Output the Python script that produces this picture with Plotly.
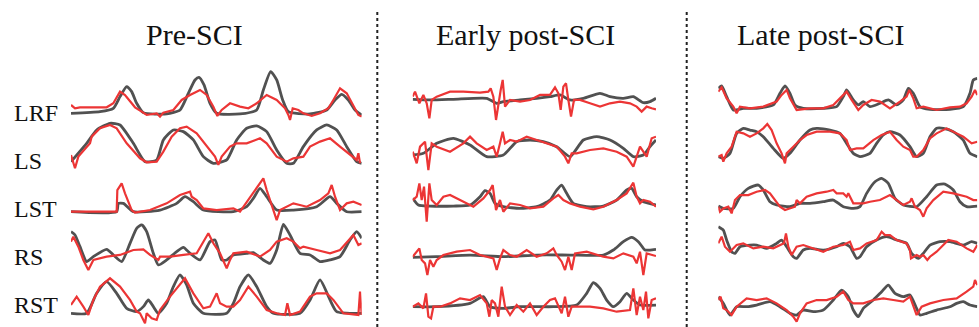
import plotly.graph_objects as go

W, H = 979, 327
GRAY = "#484848"
RED = "#ec3535"

PANELS = ["Pre-SCI", "Early post-SCI", "Late post-SCI"]
MUSCLES = ["LRF", "LS", "LST", "RS", "RST"]

# ---------------- data: (time sample, amplitude) ----------------
# Pre-SCI
pre_lrf_gray = [(213,0),(300,5),(340,15),(360,50),(380,80),(395,65),(410,30),(430,2),(500,-2),(540,10),(565,60),(585,100),(597,108),(612,85),(630,30),(650,0),(720,-2),(770,10),(790,70),(812,125),(830,100),(848,40),(865,5),(930,-2),(980,10),(1005,40),(1025,57),(1045,40),(1065,10),(1085,-5)]
pre_lrf_red = [(213,25),(225,15),(240,18),(280,18),(320,18),(340,30),(360,65),(375,55),(390,35),(405,18),(425,5),(440,-5),(470,0),(480,-10),(490,2),(520,10),(545,40),(570,55),(600,70),(620,55),(640,20),(652,-8),(665,10),(690,30),(720,20),(745,15),(770,30),(800,55),(830,40),(855,15),(865,-5),(870,-20),(878,15),(895,10),(910,0),(935,-8),(960,0),(985,15),(1000,40),(1020,75),(1040,60),(1060,20),(1075,-5),(1085,-10)]
pre_ls_gray = [(213,5),(260,60),(290,100),(330,120),(360,115),(400,60),(435,5),(470,10),(490,70),(520,100),(550,95),(580,70),(610,20),(640,0),(680,10),(710,70),(740,105),(770,112),(800,95),(830,40),(860,0),(880,0),(910,50),(950,100),(980,115),(1010,100),(1040,50),(1070,5),(1085,0)]
pre_ls_red = [(213,25),(225,-15),(235,20),(260,50),(270,60),(275,80),(300,105),(330,115),(350,105),(380,60),(420,15),(440,3),(470,5),(490,35),(515,80),(540,105),(560,110),(590,90),(620,50),(645,20),(655,-5),(665,20),(690,50),(710,60),(740,60),(780,75),(800,60),(830,20),(860,5),(880,15),(910,20),(930,50),(960,65),(990,75),(1020,50),(1050,25),(1070,10),(1075,30),(1080,0)]
pre_lst_gray = [(213,0),(350,0),(355,25),(370,25),(400,0),(480,5),(530,25),(555,45),(580,30),(610,5),(700,0),(740,15),(760,40),(780,70),(800,45),(830,5),(880,5),(950,15),(990,45),(1010,25),(1040,0),(1085,0)]
pre_lst_red = [(213,0),(350,0),(352,65),(365,85),(375,55),(395,5),(405,-3),(450,5),(500,25),(540,50),(570,60),(575,45),(590,35),(610,10),(650,5),(700,10),(720,0),(760,55),(790,100),(800,65),(810,35),(820,0),(830,-25),(840,5),(860,15),(880,25),(920,15),(960,35),(985,55),(995,80),(1005,45),(1020,5),(1040,25),(1060,30),(1085,20)]
pre_rs_gray = [(213,95),(225,85),(240,50),(260,5),(280,20),(320,42),(340,25),(365,5),(390,60),(410,105),(425,115),(440,95),(460,30),(475,-5),(500,10),(530,35),(550,48),(570,30),(600,10),(630,65),(645,70),(665,10),(680,10),(700,25),(740,30),(760,32),(790,10),(810,0),(830,40),(850,117),(870,85),(900,30),(930,25),(960,5),(990,10),(1020,20),(1050,70),(1070,95),(1085,75)]
pre_rs_red = [(213,65),(220,80),(235,50),(250,10),(265,-20),(280,10),(320,20),(360,25),(400,40),(430,42),(450,25),(475,10),(480,20),(510,20),(550,25),(590,30),(625,90),(640,60),(660,30),(680,-15),(690,10),(700,30),(740,35),(780,20),(810,40),(830,65),(860,75),(880,65),(900,45),(910,50),(950,40),(990,30),(1020,40),(1060,85),(1075,55),(1085,60)]
pre_rst_gray = [(213,0),(260,0),(290,60),(320,95),(350,60),(380,15),(410,5),(430,20),(445,40),(460,20),(475,0),(500,30),(520,80),(540,115),(560,85),(580,30),(610,0),(680,0),(700,30),(720,80),(745,115),(770,80),(800,20),(820,0),(900,0),(930,40),(960,100),(990,40),(1010,5),(1085,0)]
pre_rst_red = [(213,25),(230,50),(250,20),(265,-5),(280,40),(300,80),(330,105),(360,80),(390,40),(410,5),(420,0),(435,-30),(440,0),(455,-15),(470,-20),(480,10),(510,50),(540,85),(555,105),(580,60),(610,15),(630,20),(650,60),(660,30),(680,20),(700,20),(720,40),(745,80),(770,50),(800,10),(830,0),(855,-5),(862,30),(870,-5),(900,5),(930,50),(950,60),(980,60),(1000,40),(1030,0),(1075,-5),(1080,65),(1085,-5)]

# Early post-SCI
early_lrf_gray = [(128,0),(180,-2),(250,0),(350,3),(380,-12),(400,-7),(450,-2),(500,3),(540,8),(570,13),(600,-2),(640,3),(690,18),(720,8),(760,3),(790,8),(820,-10),(840,-7),(858,3)]
early_lrf_red = [(128,8),(135,23),(148,-12),(160,13),(170,-12),(178,-57),(185,-2),(200,8),(240,23),(280,23),(330,20),(355,23),(362,33),(370,8),(378,-62),(385,-12),(392,28),(398,58),(405,-22),(420,-2),(450,-7),(480,-2),(510,13),(540,13),(555,36),(565,18),(572,-32),(580,38),(588,48),(595,-2),(603,-52),(612,-2),(630,-2),(660,-12),(690,-22),(720,-12),(750,-7),(780,-12),(800,-22),(815,-37),(830,-22),(845,-27),(858,-30)]
early_ls_gray = [(128,0),(160,5),(200,35),(250,50),(300,30),(350,-5),(400,0),(440,40),(480,45),(520,40),(560,25),(600,-5),(640,45),(680,55),(720,45),(760,20),(790,-5),(820,0),(840,25),(858,45)]
early_ls_red = [(128,10),(140,-25),(150,25),(165,40),(175,-45),(185,35),(200,25),(240,10),(280,35),(300,55),(320,35),(350,15),(370,25),(380,-5),(390,35),(398,70),(405,35),(420,45),(440,40),(470,55),(500,45),(530,35),(560,25),(585,-5),(595,-25),(605,5),(620,5),(660,15),(700,20),(740,10),(770,-5),(790,-35),(800,-5),(810,25),(830,-5),(845,50),(858,55)]
early_lst_gray = [(128,25),(145,5),(180,2),(250,2),(300,5),(330,30),(345,48),(360,40),(375,10),(400,0),(450,-5),(500,0),(540,20),(560,50),(575,65),(590,40),(610,10),(650,0),(700,2),(740,20),(770,50),(785,55),(800,30),(820,15),(858,5)]
early_lst_red = [(128,20),(140,30),(148,70),(155,20),(162,60),(170,-45),(178,70),(185,20),(200,5),(220,30),(240,35),(280,15),(310,0),(340,25),(360,50),(368,65),(378,-10),(390,20),(400,-15),(420,10),(450,5),(480,-5),(520,0),(550,25),(565,35),(580,20),(600,10),(630,0),(670,-8),(700,0),(740,20),(770,40),(790,72),(800,30),(810,10),(820,20),(840,15),(858,0)]
early_rs_gray = [(128,-2),(200,0),(300,5),(400,0),(500,5),(600,5),(700,5),(730,20),(760,45),(785,58),(805,45),(825,20),(840,20),(858,22)]
early_rs_red = [(128,0),(140,15),(148,25),(155,-10),(165,-20),(172,-55),(180,-10),(190,-30),(200,-10),(220,5),(260,15),(300,20),(330,5),(370,-5),(380,-40),(390,-5),(400,20),(420,5),(440,0),(470,20),(500,0),(530,10),(550,25),(560,5),(575,-15),(585,-40),(595,0),(605,-40),(615,10),(650,15),(700,0),(730,-5),(760,10),(790,0),(800,-20),(810,15),(820,-55),(830,10),(845,5),(858,2)]
early_rst_gray = [(128,0),(200,0),(300,10),(340,30),(360,0),(400,-5),(450,0),(550,0),(620,5),(650,40),(670,72),(690,55),(710,20),(730,0),(750,15),(770,40),(790,20),(810,5),(858,5)]
early_rst_red = [(128,0),(145,10),(160,-5),(168,40),(175,-30),(183,-35),(190,0),(210,0),(240,10),(270,25),(300,20),(330,35),(350,10),(358,-30),(365,20),(375,10),(385,-30),(395,60),(405,0),(420,-25),(440,5),(460,-15),(480,10),(500,-25),(520,0),(540,20),(555,25),(575,-20),(585,30),(595,-30),(605,0),(620,0),(660,0),(700,-5),(740,-15),(780,-10),(790,55),(800,-25),(810,30),(820,-10),(828,45),(835,-35),(845,20),(858,25)]

# Late post-SCI
late_lrf_gray = [(85,60),(95,67),(110,35),(130,-5),(160,0),(200,0),(250,10),(270,45),(285,67),(300,45),(315,10),(340,0),(400,0),(440,5),(460,35),(470,55),(490,25),(505,10),(520,20),(540,5),(570,15),(595,25),(620,10),(640,25),(655,60),(670,45),(690,5),(720,-3),(780,-3),(820,5),(840,45),(850,85),(862,90)]
late_lrf_red = [(85,50),(95,63),(110,30),(130,5),(140,-15),(150,5),(180,0),(220,5),(260,20),(275,40),(290,55),(300,30),(320,-5),(360,0),(400,0),(430,10),(455,35),(470,50),(485,25),(505,-5),(520,10),(545,25),(570,20),(600,0),(630,20),(650,35),(658,55),(670,30),(680,0),(700,5),(740,-5),(780,3),(810,5),(830,15),(845,35),(855,55),(862,40)]
late_ls_gray = [(85,0),(100,-5),(120,10),(140,70),(160,85),(180,80),(200,75),(220,60),(250,25),(280,-5),(300,10),(330,50),(360,80),(380,85),(420,80),(450,70),(470,40),(490,10),(510,0),(540,10),(560,40),(580,65),(600,75),(630,65),(660,30),(680,0),(700,10),(720,60),(740,85),(760,85),(790,75),(820,50),(840,10),(862,0)]
late_ls_red = [(85,0),(95,5),(100,-15),(110,10),(125,30),(140,75),(160,70),(180,60),(200,70),(220,85),(232,98),(245,80),(260,40),(275,10),(285,-20),(290,10),(310,30),(330,50),(350,65),(380,75),(420,75),(450,70),(470,50),(480,20),(500,25),(520,25),(550,50),(575,65),(600,75),(620,50),(640,30),(660,20),(670,0),(680,0),(700,20),(720,55),(740,70),(770,85),(800,70),(820,60),(845,40),(862,45)]
late_lst_gray = [(85,2),(100,-5),(130,-5),(150,30),(175,55),(205,65),(220,50),(240,15),(260,5),(300,0),(330,10),(360,10),(400,15),(430,20),(460,0),(490,-5),(510,0),(530,40),(555,75),(575,85),(595,70),(615,25),(640,5),(680,0),(710,30),(740,65),(765,68),(790,50),(810,15),(830,0),(862,2)]
late_lst_red = [(85,0),(90,-15),(100,-5),(115,0),(125,-20),(135,20),(150,35),(175,35),(200,45),(225,50),(240,40),(255,20),(270,0),(285,-10),(300,-5),(315,0),(320,20),(330,10),(350,30),(380,40),(410,45),(430,50),(440,40),(460,40),(470,30),(475,40),(490,10),(520,10),(540,15),(570,20),(600,35),(625,15),(640,5),(660,15),(665,25),(675,0),(690,-10),(700,-30),(710,-5),(730,20),(760,45),(790,40),(810,35),(830,30),(850,20),(862,20)]
late_rs_gray = [(85,60),(100,50),(110,20),(125,-15),(135,-20),(150,0),(180,5),(200,5),(230,-5),(260,10),(275,20),(290,0),(310,-30),(320,-35),(340,-10),(360,-5),(400,-10),(440,0),(460,10),(480,0),(500,-35),(510,-30),(530,0),(560,20),(590,30),(620,20),(650,10),(665,-20),(685,-35),(700,-20),(720,5),(750,15),(780,15),(820,5),(845,15),(862,10)]
late_rs_red = [(85,10),(95,30),(105,0),(120,-15),(140,5),(160,10),(190,-5),(220,0),(250,-5),(270,5),(282,10),(288,40),(295,0),(305,-25),(320,0),(340,5),(370,-5),(400,-15),(430,0),(460,5),(480,15),(490,-10),(510,-5),(530,10),(560,20),(575,45),(585,35),(600,35),(620,20),(650,10),(660,-10),(663,-35),(680,-25),(690,-30),(700,-25),(712,-40),(720,-30),(740,-15),(760,5),(775,20),(800,15),(830,-5),(850,-15),(862,5)]
late_rst_gray = [(85,30),(100,10),(120,-25),(140,0),(170,0),(200,5),(240,15),(270,0),(300,-20),(320,-25),(340,-10),(370,-15),(400,-10),(430,20),(455,50),(475,30),(490,-10),(505,-30),(520,-5),(550,20),(575,45),(595,65),(615,40),(640,30),(660,35),(680,-5),(690,-25),(710,-20),(740,-10),(780,0),(800,10),(820,15),(840,5),(862,0)]
late_rst_red = [(85,20),(92,30),(100,-5),(110,-10),(125,-25),(140,0),(170,25),(200,20),(230,25),(260,10),(290,-10),(310,-30),(320,-45),(330,-20),(350,10),(380,20),(410,20),(440,30),(460,45),(475,20),(490,10),(520,10),(550,20),(580,25),(610,20),(640,15),(660,30),(670,0),(680,-25),(695,0),(720,10),(760,20),(800,25),(830,45),(850,60),(855,80),(862,65)]

DATA = [
    [(pre_lrf_gray, pre_lrf_red), (pre_ls_gray, pre_ls_red), (pre_lst_gray, pre_lst_red), (pre_rs_gray, pre_rs_red), (pre_rst_gray, pre_rst_red)],
    [(early_lrf_gray, early_lrf_red), (early_ls_gray, early_ls_red), (early_lst_gray, early_lst_red), (early_rs_gray, early_rs_red), (early_rst_gray, early_rst_red)],
    [(late_lrf_gray, late_lrf_red), (late_ls_gray, late_ls_red), (late_lst_gray, late_lst_red), (late_rs_gray, late_rs_red), (late_rst_gray, late_rst_red)],
]

# ---------------- layout helpers (pixel placement) ----------------
PANEL_XPIX = [(71, 361.7), (412.7, 656), (718.3, 977.3)]
ROW_BASE = [
    [113.3, 163.3, 211.7, 263.3, 313.3],
    [99.3, 155.0, 206.7, 256.7, 306.7],
    [108.3, 156.7, 206.7, 246.7, 306.7],
]
SCALE = 3.0  # amplitude units per pixel
TITLE_X = [194, 525, 820]
LABEL_Y = [113, 161, 209, 257, 305]

fig = go.Figure()
layout = {}
n = 0
for p in range(3):
    for r in range(5):
        n += 1
        gray, red = DATA[p][r]
        sfx = "" if n == 1 else str(n)
        tg, vg = zip(*gray)
        tr, vr = zip(*red)
        fig.add_trace(go.Scatter(x=tg, y=vg, mode="lines",
                                 line=dict(color=GRAY, width=2.8, shape="spline", smoothing=0.55),
                                 opacity=0.95,
                                 xaxis="x" + sfx, yaxis="y" + sfx, showlegend=False, hoverinfo="skip"))
        fig.add_trace(go.Scatter(x=tr, y=vr, mode="lines",
                                 line=dict(color=RED, width=2.2),
                                 xaxis="x" + sfx, yaxis="y" + sfx, showlegend=False, hoverinfo="skip"))
        base = ROW_BASE[p][r]
        lo = min(80.0, (326.5 - base) * SCALE)
        hi = min(140.0, base * SCALE)
        y_bot = base + lo / SCALE
        y_top = base - hi / SCALE
        x0, x1 = PANEL_XPIX[p]
        tmin = min(min(tg), min(tr))
        tmax = max(max(tg), max(tr))
        layout["xaxis" + sfx] = dict(domain=[x0 / W, x1 / W], range=[tmin, tmax], visible=False,
                                     anchor="y" + sfx, fixedrange=True)
        layout["yaxis" + sfx] = dict(domain=[1 - y_bot / H, 1 - y_top / H], range=[-lo, hi], visible=False,
                                     anchor="x" + sfx, fixedrange=True)

fig.update_layout(**layout)

annotations = []
for p, name in enumerate(PANELS):
    annotations.append(dict(text=name, x=TITLE_X[p] / W, y=1 - 35 / H, xref="paper", yref="paper",
                            xanchor="center", yanchor="middle", showarrow=False,
                            font=dict(family="Liberation Serif", size=30, color="#111111")))
for r, m in enumerate(MUSCLES):
    annotations.append(dict(text=m, x=12 / W, y=1 - LABEL_Y[r] / H, xref="paper", yref="paper",
                            xanchor="left", yanchor="middle", showarrow=False,
                            font=dict(family="Liberation Serif", size=24, color="#111111")))

shapes = []
for xs in (377.3, 686.7):
    shapes.append(dict(type="line", xref="paper", yref="paper", x0=xs / W, x1=xs / W,
                       y0=1 - 12 / H, y1=0, line=dict(color="#222222", width=2, dash="3px,3px")))

fig.update_layout(width=W, height=H, margin=dict(l=0, r=0, t=0, b=0), autosize=False,
                  paper_bgcolor="white", plot_bgcolor="rgba(0,0,0,0)",
                  annotations=annotations, shapes=shapes)

fig.write_html("out.html")
